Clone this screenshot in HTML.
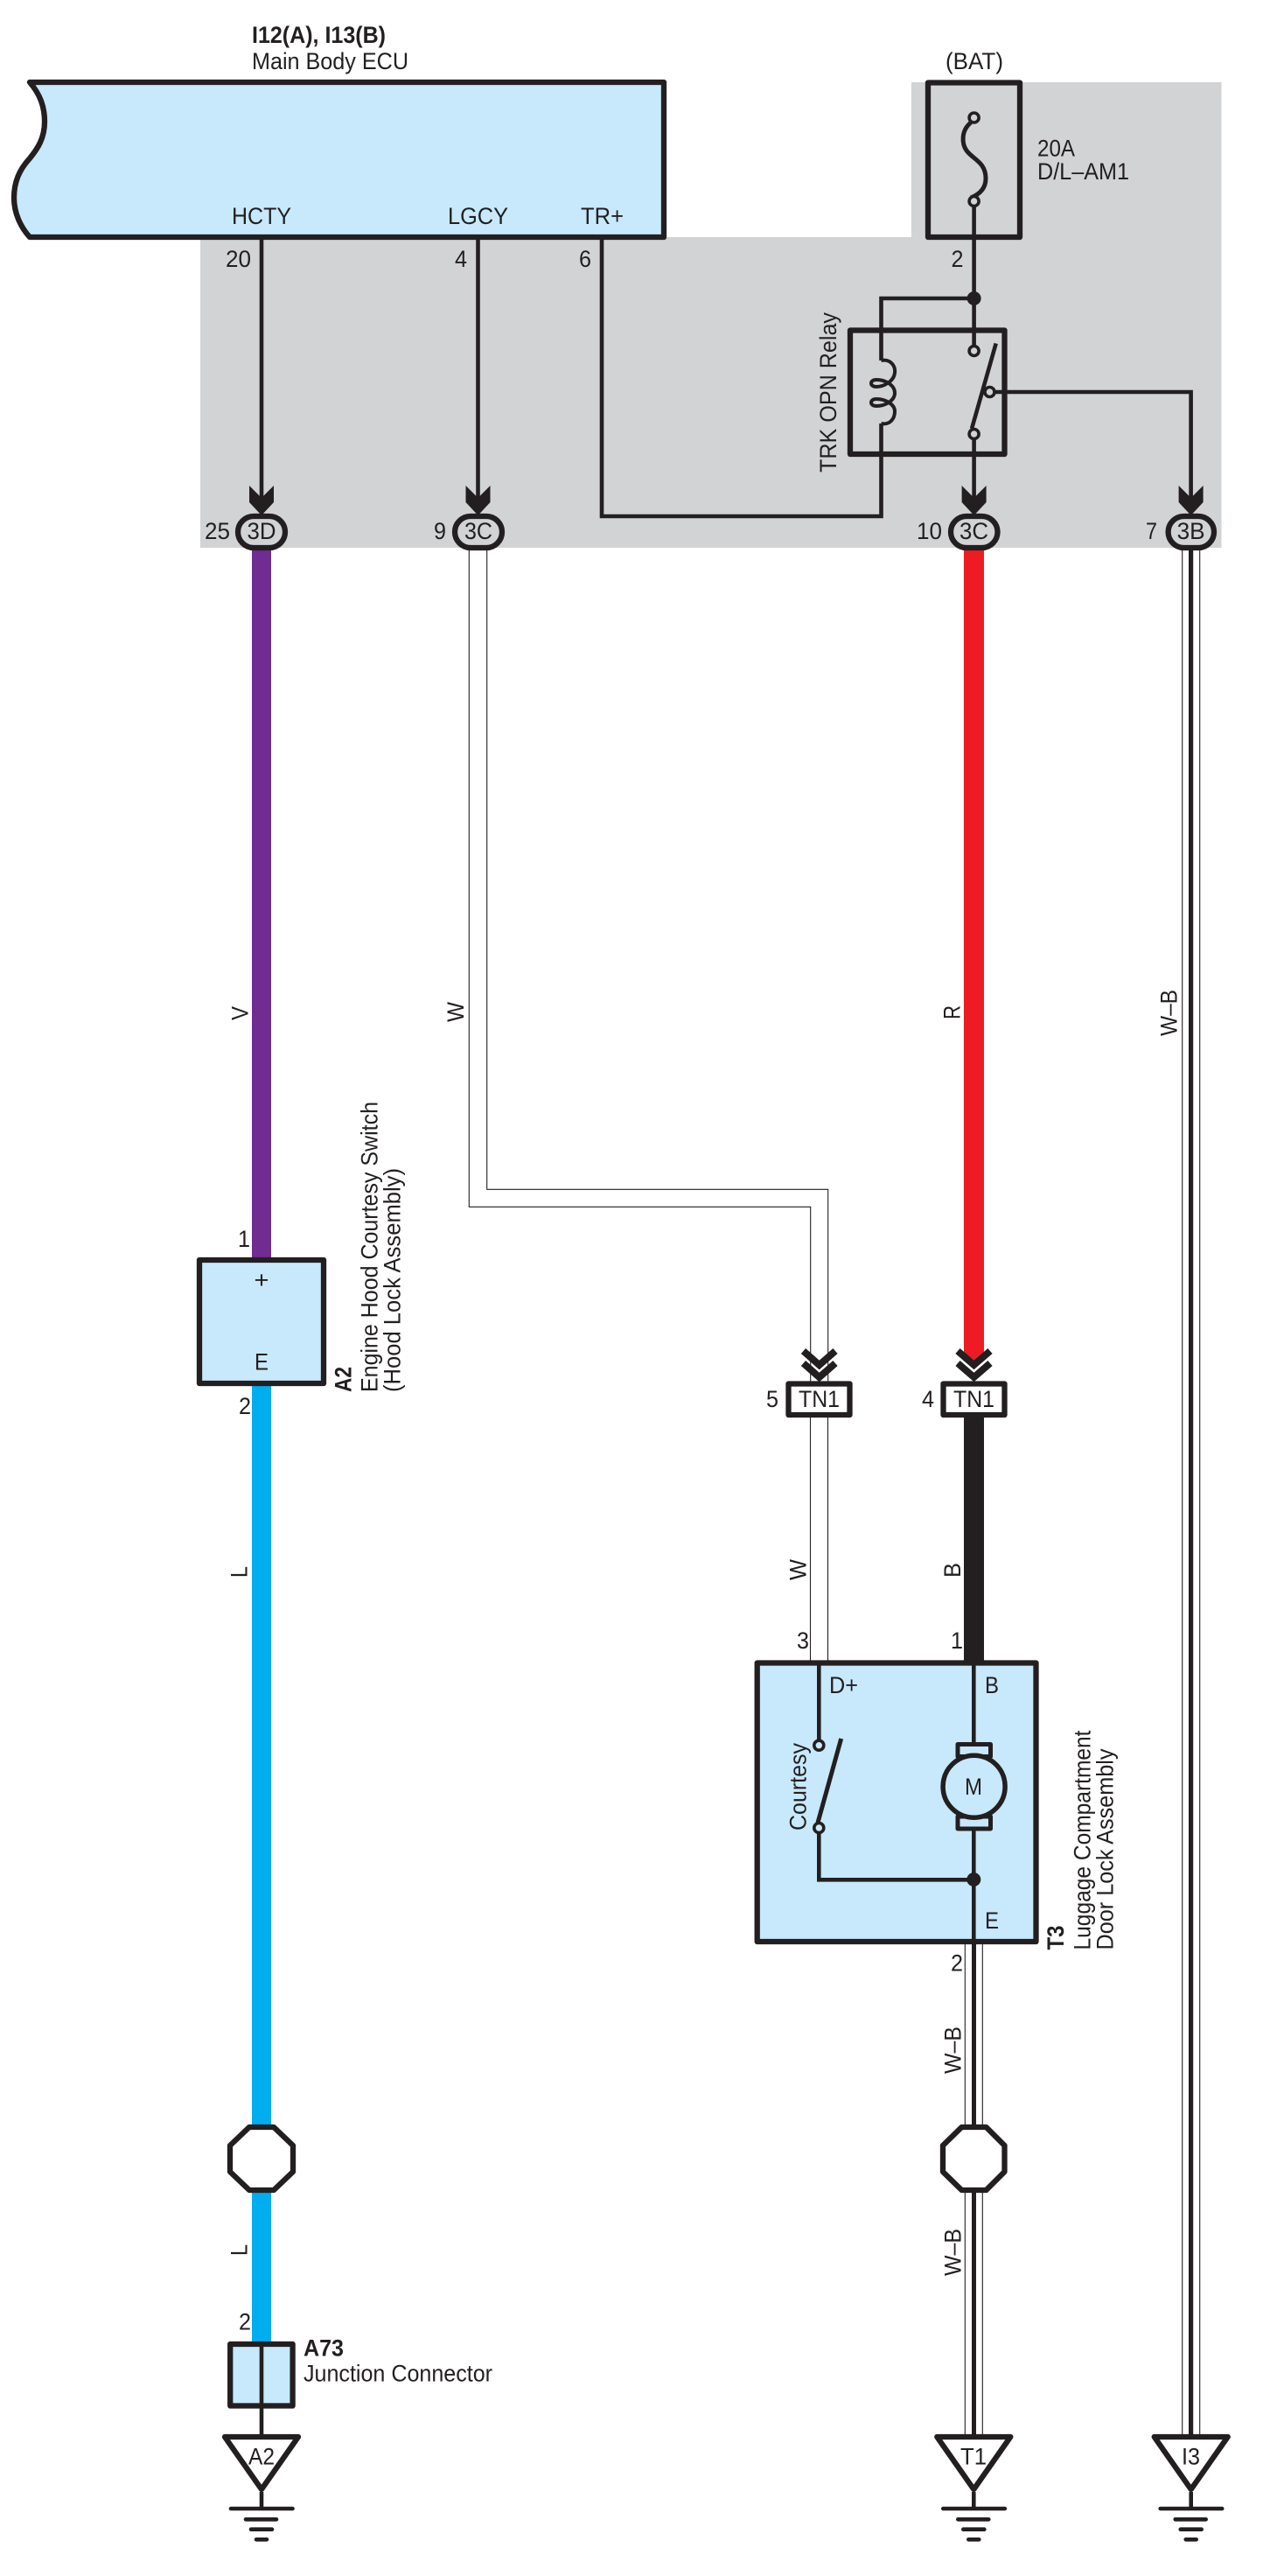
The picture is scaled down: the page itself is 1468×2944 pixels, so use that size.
<!DOCTYPE html>
<html>
<head>
<meta charset="utf-8">
<title>Wiring diagram</title>
<style>
html,body{margin:0;padding:0;background:#fff}
svg{display:block}
text{font-family:"Liberation Sans",sans-serif;font-size:27px;fill:#231f20}
.b{font-weight:bold}
.w{fill:none;stroke:#231f20;stroke-width:4.6}
.t{fill:none;stroke:#231f20;stroke-width:1.1}
.s{stroke:#231f20;stroke-width:6.3;stroke-linejoin:round}
.c{fill:#d1d3d4;stroke:#231f20;stroke-width:3.6}
.c2{fill:#c7e9fb;stroke:#231f20;stroke-width:3.6}
.g{stroke:#231f20;stroke-width:4.6;stroke-linecap:round}
</style>
</head>
<body>
<svg xmlns="http://www.w3.org/2000/svg" width="1468" height="2944" viewBox="0 0 1468 2944">
<rect width="1468" height="2944" fill="#fff"/>
<polygon points="229,271 1042,271 1042,94 1396.5,94 1396.5,626 229,626" fill="#d1d3d4"/>

<!-- ECU -->
<path class="s" fill="#c7e9fb" d="M34,94 C46,108 51,122 51,139 C51,158 43,170 34,181 C22,194 16,208 16,226 C16,244 24,260 34,271 L759,271 L759,94 Z"/>
<text class="b" x="288" y="49" textLength="153" lengthAdjust="spacingAndGlyphs">I12(A), I13(B)</text>
<text x="288" y="79" textLength="179" lengthAdjust="spacingAndGlyphs">Main Body ECU</text>
<text x="265" y="256" textLength="68" lengthAdjust="spacingAndGlyphs">HCTY</text>
<text x="512" y="256" textLength="69" lengthAdjust="spacingAndGlyphs">LGCY</text>
<text x="664" y="256" textLength="49" lengthAdjust="spacingAndGlyphs">TR+</text>
<text x="258" y="305" textLength="29" lengthAdjust="spacingAndGlyphs">20</text>
<text x="520" y="305" textLength="14" lengthAdjust="spacingAndGlyphs">4</text>
<text x="662" y="305" textLength="14" lengthAdjust="spacingAndGlyphs">6</text>
<text x="1087.5" y="305" textLength="14" lengthAdjust="spacingAndGlyphs">2</text>

<!-- upper wires -->
<path class="w" d="M299,271 V575"/>
<path class="w" d="M546.5,271 V575"/>
<path class="w" d="M688,271 V590 H1007.5 V484"/>
<path class="w" d="M1007.5,412 V341 H1113.6"/>
<path class="w" d="M1113.6,236 V396"/>
<path class="w" d="M1113.6,502 V575"/>
<path class="w" d="M1138,448 H1361.6 V575"/>

<!-- fuse -->
<rect class="s" x="1061" y="94.5" width="105" height="176.5" fill="none"/>
<path d="M1110,140 C1098,150 1100,165 1105,172 C1112,182 1127,185 1127,204 C1127,215 1120,222 1110,226" fill="none" stroke="#231f20" stroke-width="5"/>
<circle class="c" cx="1113.6" cy="134.5" r="5.5"/>
<circle class="c" cx="1113.6" cy="230" r="5.5"/>
<text x="1081" y="79" textLength="66" lengthAdjust="spacingAndGlyphs">(BAT)</text>
<text x="1186" y="178.5" textLength="43" lengthAdjust="spacingAndGlyphs">20A</text>
<text x="1186" y="205" textLength="105" lengthAdjust="spacingAndGlyphs">D/L–AM1</text>
<circle cx="1113.6" cy="341" r="8" fill="#231f20"/>

<!-- relay -->
<rect class="s" x="972" y="377.5" width="176.5" height="141.5" fill="none"/>
<path d="M1007.5,412 C1018,410 1024,418 1023,426 C1022,436 1010,442 1002,442 C994,442 994,434 1002,434 C1012,434 1023,440 1023,449 C1023,458 1012,464 1002,464 C994,464 994,456 1002,456 C1012,456 1023,462 1023,470 C1023,478 1018,486 1007.5,484" fill="none" stroke="#231f20" stroke-width="4"/>
<path d="M1111,490 L1138.7,392.5" stroke="#231f20" stroke-width="4.6"/>
<circle class="c" cx="1113.6" cy="401" r="5.5"/>
<circle class="c" cx="1113.6" cy="496" r="5.5"/>
<circle class="c" cx="1131.5" cy="448" r="5.5"/>
<text transform="translate(956,540) rotate(-90)" textLength="183" lengthAdjust="spacingAndGlyphs">TRK OPN Relay</text>

<!-- lower wires -->
<rect x="288" y="625" width="22" height="815" fill="#702c91"/>
<rect x="288" y="1580" width="22" height="1100" fill="#00aeef"/>
<path class="t" d="M536.3,626 V1379.3 H926.7 V1580"/>
<path class="t" d="M556.7,626 V1359.3 H946.7 V1580"/>
<polygon points="1102,625 1125,625 1125,1545 1113.5,1556 1102,1545" fill="#ed1c24"/>
<rect x="1102" y="1618" width="23" height="284" rx="3" fill="#231f20"/>
<path class="t" d="M926.5,1618 V1902 M946.5,1618 V1902"/>
<path class="t" d="M1103.3,2220 V2790 M1123.3,2220 V2790"/>
<rect x="1111" y="2218" width="5" height="570" fill="#231f20"/>
<path class="t" d="M1351.7,625 V2790 M1371.7,625 V2790"/>
<rect x="1359" y="625" width="5.2" height="2165" fill="#231f20"/>

<!-- arrows -->
<polygon points="285,555 285,574 299,589 313,574 313,555 299,569" fill="#231f20"/>
<polygon points="532.5,555 532.5,574 546.5,589 560.5,574 560.5,555 546.5,569" fill="#231f20"/>
<polygon points="1099.6,555 1099.6,574 1113.6,589 1127.6,574 1127.6,555 1113.6,569" fill="#231f20"/>
<polygon points="1347.6,555 1347.6,574 1361.6,589 1375.6,574 1375.6,555 1361.6,569" fill="#231f20"/>

<!-- connectors -->
<rect class="c" style="stroke-width:6.3" x="272" y="590" width="54" height="36" rx="18"/>
<text x="282.5" y="616" textLength="33" lengthAdjust="spacingAndGlyphs">3D</text>
<text x="234" y="616" textLength="29" lengthAdjust="spacingAndGlyphs">25</text>
<rect class="c" style="stroke-width:6.3" x="520" y="590" width="54" height="36" rx="18"/>
<text x="531" y="616" textLength="32" lengthAdjust="spacingAndGlyphs">3C</text>
<text x="496" y="616" textLength="14" lengthAdjust="spacingAndGlyphs">9</text>
<rect class="c" style="stroke-width:6.3" x="1087" y="590" width="53.5" height="36" rx="18"/>
<text x="1097" y="616" textLength="33" lengthAdjust="spacingAndGlyphs">3C</text>
<text x="1048" y="616" textLength="29" lengthAdjust="spacingAndGlyphs">10</text>
<rect class="c" style="stroke-width:6.3" x="1335.6" y="590" width="52.4" height="36" rx="18"/>
<text x="1345.6" y="616" textLength="32" lengthAdjust="spacingAndGlyphs">3B</text>
<text x="1310" y="616" textLength="13" lengthAdjust="spacingAndGlyphs">7</text>

<!-- wire labels -->
<text transform="translate(283.3,1166) rotate(-90)" textLength="16" lengthAdjust="spacingAndGlyphs">V</text>
<text transform="translate(530,1168) rotate(-90)" textLength="23" lengthAdjust="spacingAndGlyphs">W</text>
<text transform="translate(1097.7,1165) rotate(-90)" textLength="16" lengthAdjust="spacingAndGlyphs">R</text>
<text transform="translate(1345.7,1184) rotate(-90)" textLength="53" lengthAdjust="spacingAndGlyphs">W–B</text>
<text transform="translate(282.7,1803) rotate(-90)" textLength="13" lengthAdjust="spacingAndGlyphs">L</text>
<text transform="translate(282.7,2578) rotate(-90)" textLength="13" lengthAdjust="spacingAndGlyphs">L</text>
<text transform="translate(921.7,1806) rotate(-90)" textLength="24" lengthAdjust="spacingAndGlyphs">W</text>
<text transform="translate(1098,1803) rotate(-90)" textLength="17" lengthAdjust="spacingAndGlyphs">B</text>
<text transform="translate(1098.3,2370) rotate(-90)" textLength="54" lengthAdjust="spacingAndGlyphs">W–B</text>
<text transform="translate(1098.3,2601) rotate(-90)" textLength="54" lengthAdjust="spacingAndGlyphs">W–B</text>

<!-- A2 switch -->
<rect class="s" x="228" y="1440" width="142" height="141" fill="#c7e9fb"/>
<text x="290.5" y="1472" textLength="17" lengthAdjust="spacingAndGlyphs">+</text>
<text x="291" y="1565.7" textLength="16" lengthAdjust="spacingAndGlyphs">E</text>
<text x="272" y="1425" textLength="14" lengthAdjust="spacingAndGlyphs">1</text>
<text x="273" y="1616" textLength="14" lengthAdjust="spacingAndGlyphs">2</text>
<text class="b" transform="translate(401.7,1591) rotate(-90)" textLength="29" lengthAdjust="spacingAndGlyphs">A2</text>
<text transform="translate(431.3,1591) rotate(-90)" textLength="332" lengthAdjust="spacingAndGlyphs">Engine Hood Courtesy Switch</text>
<text transform="translate(457.3,1591) rotate(-90)" textLength="256" lengthAdjust="spacingAndGlyphs">(Hood Lock Assembly)</text>

<!-- TN1 connectors -->
<polyline points="918.5,1544 936.7,1560 955,1544" fill="none" stroke="#231f20" stroke-width="8"/>
<polyline points="918.5,1558 936.7,1574 955,1558" fill="none" stroke="#231f20" stroke-width="8"/>
<polyline points="1095,1544 1113.5,1560 1132,1544" fill="none" stroke="#231f20" stroke-width="8"/>
<polyline points="1095,1558 1113.5,1574 1132,1558" fill="none" stroke="#231f20" stroke-width="8"/>
<rect class="s" x="901.5" y="1581.5" width="70" height="35.5" fill="#fff"/>
<rect class="s" x="1078.5" y="1581.5" width="70" height="35.5" fill="#fff"/>
<text x="913" y="1608" textLength="47" lengthAdjust="spacingAndGlyphs">TN1</text>
<text x="1090" y="1608" textLength="47" lengthAdjust="spacingAndGlyphs">TN1</text>
<text x="876" y="1608" textLength="14" lengthAdjust="spacingAndGlyphs">5</text>
<text x="1054" y="1608" textLength="14" lengthAdjust="spacingAndGlyphs">4</text>

<!-- T3 -->
<rect class="s" x="865.7" y="1900.5" width="318.8" height="318.5" fill="#c7e9fb"/>
<path class="w" d="M936.3,1900 V1990"/>
<path class="w" d="M936.3,2094 V2148.3 H1113.3"/>
<path class="w" d="M1113.3,1900 V1994 M1113.3,2090 V2222"/>
<path d="M935,2083 L961.7,1987" stroke="#231f20" stroke-width="5"/>
<circle class="c2" cx="936.3" cy="1994.7" r="5.5"/>
<circle class="c2" cx="936.3" cy="2089" r="5.5"/>
<circle cx="1113.3" cy="2148" r="8" fill="#231f20"/>
<rect x="1095" y="1993.5" width="37.5" height="14" fill="#c7e9fb" stroke="#231f20" stroke-width="5" stroke-linejoin="round"/>
<rect x="1095" y="2076" width="37.5" height="14" fill="#c7e9fb" stroke="#231f20" stroke-width="5" stroke-linejoin="round"/>
<ellipse cx="1113.6" cy="2041.7" rx="35.5" ry="35.5" fill="#c7e9fb" stroke="#231f20" stroke-width="5.5"/>
<text x="1103" y="2051" textLength="20" lengthAdjust="spacingAndGlyphs">M</text>
<text x="948" y="1935" textLength="33" lengthAdjust="spacingAndGlyphs">D+</text>
<text x="1126" y="1935" textLength="16" lengthAdjust="spacingAndGlyphs">B</text>
<text x="1126" y="2204" textLength="16" lengthAdjust="spacingAndGlyphs">E</text>
<text transform="translate(921.7,2092) rotate(-90)" textLength="100" lengthAdjust="spacingAndGlyphs">Courtesy</text>
<text x="911" y="1884" textLength="14" lengthAdjust="spacingAndGlyphs">3</text>
<text x="1087" y="1884" textLength="14" lengthAdjust="spacingAndGlyphs">1</text>
<text x="1087" y="2252.6" textLength="14" lengthAdjust="spacingAndGlyphs">2</text>
<text class="b" transform="translate(1216,2228.5) rotate(-90)" textLength="28" lengthAdjust="spacingAndGlyphs">T3</text>
<text transform="translate(1246.7,2228.5) rotate(-90)" textLength="251" lengthAdjust="spacingAndGlyphs">Luggage Compartment</text>
<text transform="translate(1272.3,2228.5) rotate(-90)" textLength="230" lengthAdjust="spacingAndGlyphs">Door Lock Assembly</text>

<!-- octagons -->
<polygon class="s" points="285,2431 313,2431 335,2452 335,2482 313,2503 285,2503 263,2482 263,2452" fill="#fff"/>
<polygon class="s" points="1099.5,2431 1127.5,2431 1148.5,2452 1148.5,2482 1127.5,2503 1099.5,2503 1078,2482 1078,2452" fill="#fff"/>

<!-- A73 -->
<rect class="s" x="263.2" y="2679" width="71.4" height="70.5" fill="#c7e9fb"/>
<path class="w" d="M299,2677 V2782"/>
<text x="273" y="2662.7" textLength="14" lengthAdjust="spacingAndGlyphs">2</text>
<text class="b" x="347" y="2692.7" textLength="46" lengthAdjust="spacingAndGlyphs">A73</text>
<text x="347" y="2721.7" textLength="216" lengthAdjust="spacingAndGlyphs">Junction Connector</text>

<!-- grounds -->
<polygon class="s" points="257,2785 341,2785 299,2845" fill="#fff"/>
<text x="284" y="2816.7" textLength="30" lengthAdjust="spacingAndGlyphs">A2</text>
<path class="w" d="M299,2848 V2867"/>
<path class="g" d="M264,2867 H334.5 M281,2879.3 H316 M287,2890.7 H311 M293,2902.3 H305"/>

<polygon class="s" points="1071.3,2785 1155.3,2785 1113.3,2845" fill="#fff"/>
<text x="1098" y="2816.7" textLength="30" lengthAdjust="spacingAndGlyphs">T1</text>
<path class="w" d="M1113.3,2848 V2867"/>
<path class="g" d="M1078.3,2867 H1148.8 M1095.3,2879.3 H1130.3 M1101.3,2890.7 H1125.3 M1107.3,2902.3 H1119.3"/>

<polygon class="s" points="1319.7,2785 1403.7,2785 1361.7,2845" fill="#fff"/>
<text x="1351" y="2816.7" textLength="21" lengthAdjust="spacingAndGlyphs">I3</text>
<path class="w" d="M1361.7,2848 V2867"/>
<path class="g" d="M1326.7,2867 H1397.2 M1343.7,2879.3 H1378.7 M1349.7,2890.7 H1373.7 M1355.7,2902.3 H1367.7"/>
</svg>
</body>
</html>
